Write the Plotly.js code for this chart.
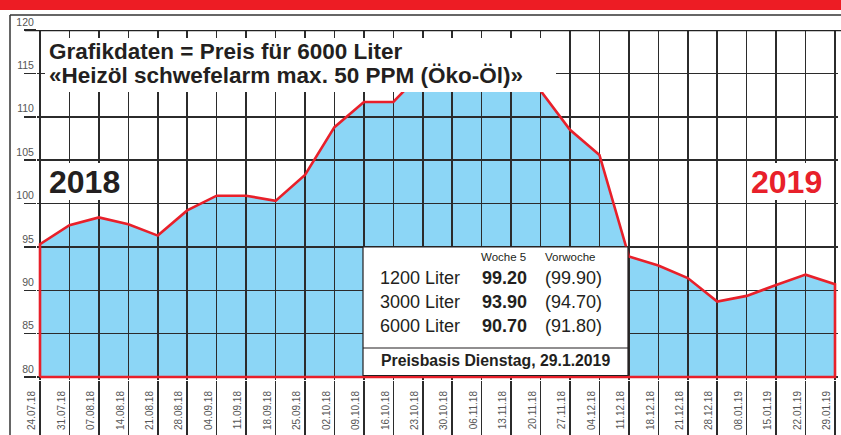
<!DOCTYPE html>
<html><head><meta charset="utf-8">
<script src="https://cdn.plot.ly/plotly-3.0.1.min.js"></script>
<style>html,body{margin:0;padding:0;background:#fff}</style>
</head><body><div id="chart" style="width:841px;height:435px"></div>
<script>
// ---- data ----
const dates = ['24.07.18','31.07.18','07.08.18','14.08.18','21.08.18','28.08.18','04.09.18','11.09.18','18.09.18','25.09.18','02.10.18','09.10.18','16.10.18','23.10.18','30.10.18','06.11.18','13.11.18','20.11.18','27.11.18','04.12.18','11.12.18','18.12.18','21.12.18','28.12.18','08.01.19','15.01.19','22.01.19','29.01.19'];
const prices = [95.3,97.5,98.4,97.6,96.3,99.2,100.9,100.9,100.3,103.3,108.8,111.7,111.7,115.2,116.5,117.2,116.0,113.0,108.5,105.6,93.9,92.85,91.4,88.7,89.35,90.6,91.8,90.7];
const yTicks = [80,85,90,95,100,105,110,115,120];
const baseValue = 80;
const titleLines = ['Grafikdaten = Preis für 6000 Liter','«Heizöl schwefelarm max. 50 PPM (Öko-Öl)»'];
const yearLeft = '2018';
const yearRight = '2019';
const tableHead = ['Woche 5','Vorwoche'];
const tableSizes = ['1200 Liter','3000 Liter','6000 Liter'];
const tableWeek5 = [99.20, 93.90, 90.70];
const tablePrevWeek = [99.90, 94.70, 91.80];
const tableFooter = 'Preisbasis Dienstag, 29.1.2019';

// ---- geometry ----
const W = 841, H = 435, L = 37, R = 3, T = 30, B = 55;
const pw = W - L - R, ph = H - T - B;
const px = x => (x - L) / pw;
const py = y => (H - B - y) / ph;
const n = dates.length;
const pxPerCat = 29.444, pxPerUnit = 8.675;
const xr = [-3 / pxPerCat, (n - 1) + 3 / pxPerCat];
const yr = [baseValue - 3 / pxPerUnit, yTicks[yTicks.length - 1]];

const RED = '#E8202A', BLUE = 'rgb(140,214,246)', INK = '#231F20', GRID = '#2b2b2b';

const polyX = [dates[0], ...dates, dates[n - 1], dates[0]];
const polyY = [baseValue, ...prices, baseValue, baseValue];

const fillTrace = {
  type: 'scatter', mode: 'lines', x: polyX, y: polyY, xaxis: 'x', yaxis: 'y',
  fill: 'toself', fillcolor: BLUE, line: {width: 0, color: BLUE}, hoverinfo: 'skip'
};
const lineTrace = {
  type: 'scatter', mode: 'lines', x: polyX, y: polyY, xaxis: 'x2', yaxis: 'y2',
  line: {width: 2.6, color: RED}, hoverinfo: 'skip'
};

const sans = '"Liberation Sans", Arial, Helvetica, sans-serif';

const layout = {
  width: W, height: H, margin: {l: L, r: R, t: T, b: B},
  paper_bgcolor: '#fff', plot_bgcolor: 'rgba(0,0,0,0)', showlegend: false,
  xaxis: {type: 'category', categoryarray: dates, range: xr, visible: false, fixedrange: true},
  yaxis: {range: yr, visible: false, fixedrange: true},
  xaxis2: {type: 'category', categoryarray: dates, range: xr, anchor: 'y2',
    showgrid: true, gridcolor: GRID, gridwidth: 1.5, zeroline: false, showline: false,
    ticks: 'outside', ticklen: 55, tickwidth: 1.5, tickcolor: GRID,
    tickangle: -90, ticklabelstandoff: -49, ticklabelshift: -8,
    tickfont: {family: sans, size: 10, color: '#555'}},
  yaxis2: {range: yr, anchor: 'x2', tickvals: yTicks, ticktext: yTicks.map(String),
    showgrid: true, gridcolor: GRID, gridwidth: 1.5, zeroline: false, showline: false,
    ticks: 'outside', ticklen: 12, tickwidth: 1.5, tickcolor: GRID,
    ticklabelstandoff: -12, ticklabelshift: -8,
    tickfont: {family: sans, size: 10.5, color: '#555'}},
  shapes: [], annotations: []
};

const S = layout.shapes, A = layout.annotations;
// red band and frame
S.push({type: 'rect', xref: 'paper', yref: 'paper', x0: px(0), x1: px(W), y0: py(0), y1: py(10), fillcolor: '#ED1C24', line: {width: 0}, layer: 'above'});
S.push({type: 'line', xref: 'paper', yref: 'paper', x0: px(10), x1: px(10), y0: py(15), y1: py(H), line: {color: '#333', width: 1.5}});
S.push({type: 'line', xref: 'paper', yref: 'paper', x0: px(10), x1: px(W), y0: py(15), y1: py(15), line: {color: '#333', width: 1.5}});
S.push({type: 'line', xref: 'paper', yref: 'y2', x0: px(25), x1: px(W), y0: yTicks[yTicks.length - 1], y1: yTicks[yTicks.length - 1], line: {color: '#222', width: 2.6}, layer: 'above'});
// white boxes
const box = (x0, y0, x1, y1, border) => S.push({type: 'rect', xref: 'paper', yref: 'paper', x0: px(x0), x1: px(x1), y0: py(y1), y1: py(y0), fillcolor: '#fff', line: border ? {color: INK, width: 1.2} : {width: 0}, layer: 'above'});
box(45, 38, 556, 92, false);
box(45, 163, 126, 200, false);
box(750, 163, 826, 200, false);
box(363, 247, 628, 375.5, true);
S.push({type: 'line', xref: 'paper', yref: 'paper', x0: px(363), x1: px(628), y0: py(348), y1: py(348), line: {color: INK, width: 1.2}, layer: 'above'});

const txt = (text, x, y, font, anchor) => A.push({text, xref: 'paper', yref: 'paper', x: px(x), y: py(y), xanchor: anchor || 'left', yanchor: 'middle', showarrow: false, font});
txt(titleLines[0], 47, 51, {family: sans, size: 22.5, color: INK, weight: 'bold'});
txt(titleLines[1], 47, 75.5, {family: sans, size: 22.5, color: INK, weight: 'bold'});
txt(yearLeft, 47, 182, {family: sans, size: 32, color: INK, weight: 'bold'});
txt(yearRight, 749, 182, {family: sans, size: 32, color: RED, weight: 'bold'});
txt(tableHead[0], 479, 257, {family: sans, size: 11.5, color: INK});
txt(tableHead[1], 543, 257, {family: sans, size: 11.5, color: INK});
const rowY = [278, 302, 326];
tableSizes.forEach((s, i) => {
  txt(s, 378, rowY[i], {family: sans, size: 18, color: INK});
  txt(tableWeek5[i].toFixed(2), 480, rowY[i], {family: sans, size: 18, color: INK, weight: 'bold'});
  txt('(' + tablePrevWeek[i].toFixed(2) + ')', 543, rowY[i], {family: sans, size: 18, color: INK});
});
txt(tableFooter, 379, 360, {family: sans, size: 15.8, color: INK, weight: 'bold'});

Plotly.newPlot('chart', [fillTrace, lineTrace], layout, {staticPlot: true});
</script>
</body></html>
